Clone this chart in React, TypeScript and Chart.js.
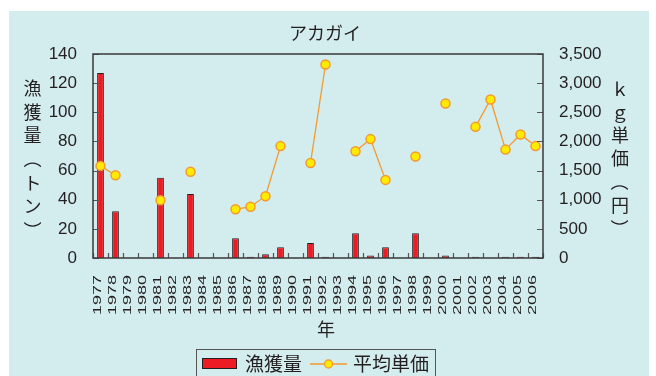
import { useEffect, useRef } from 'react';
import { Chart, registerables } from 'chart.js';

Chart.register(...registerables);

// 年ごとのアカガイ漁獲量（トン）と平均単価（円/kg）
const years = [
  '1977', '1978', '1979', '1980', '1981', '1982', '1983', '1984', '1985', '1986',
  '1987', '1988', '1989', '1990', '1991', '1992', '1993', '1994', '1995', '1996',
  '1997', '1998', '1999', '2000', '2001', '2002', '2003', '2004', '2005', '2006',
];

const catchTons: (number | null)[] = [
  127, 32, null, null, 55, null, 44, null, null, 13.5,
  0.8, 2.5, 7.3, null, 10.3, 0.8, null, 17, 1.8, 7.3,
  null, 17, null, 1.8, null, 0.8, null, 0.8, 0.8, 0.8,
];

const unitPrice: (number | null)[] = [
  1580, 1420, null, null, 990, null, 1480, null, null, 835,
  880, 1060, 1920, null, 1630, 3320, null, 1830, 2040, 1340,
  null, 1740, null, 2650, null, 2250, 2720, 1860, 2120, 1920,
];

const leftAxis = { min: 0, max: 140, step: 20 };
const rightAxis = { min: 0, max: 3500, step: 500 };

const titleText = 'アカガイ';
const xTitle = '年';
// 縦書きの軸タイトル（括弧は90度回して描く）
const leftTitle = ['漁', '獲', '量', '（', 'ト', 'ン', '）'];
const rightTitle = ['ｋ', 'ｇ', '単', '価', '（', '円', '）'];
const legendLabels = ['漁獲量', '平均単価'];

const BAR_RED = '#ED1C24';
const LINE_ORANGE = '#F39A2E';
const POINT_YELLOW = '#FFEB00';
const INK = '#231F20';
const JP_FONT = "'Noto Sans CJK JP', 'Noto Sans', sans-serif";
const NUM_FONT = "'Liberation Sans', Arial, sans-serif";

function drawVerticalText(ctx: CanvasRenderingContext2D, chars: string[], cx: number, y0: number, step: number) {
  chars.forEach((ch, i) => {
    const cy = y0 + i * step;
    if (ch === '（' || ch === '）') {
      ctx.save();
      ctx.translate(cx, cy);
      ctx.rotate(Math.PI / 2);
      ctx.fillText(ch, 0, 0);
      ctx.restore();
    } else {
      ctx.fillText(ch, cx, cy);
    }
  });
}

const decorPlugin = {
  id: 'decor',
  afterDatasetsDraw(chart: any) {
    const { ctx, chartArea } = chart;
    const { left, right, top, bottom } = chartArea;
    const yL = chart.scales.y;
    const yR = chart.scales.y2;
    const x = chart.scales.x;
    ctx.save();

    // inner tick marks
    ctx.strokeStyle = '#555';
    ctx.lineWidth = 1.2;
    ctx.beginPath();
    for (let v = leftAxis.min; v <= leftAxis.max; v += leftAxis.step) {
      const py = Math.round(yL.getPixelForValue(v)) + 0.5;
      ctx.moveTo(left, py);
      ctx.lineTo(left + 6, py);
    }
    for (let v = rightAxis.min; v <= rightAxis.max; v += rightAxis.step) {
      const py = Math.round(yR.getPixelForValue(v)) + 0.5;
      ctx.moveTo(right - 6, py);
      ctx.lineTo(right, py);
    }
    const half = (x.getPixelForValue(1) - x.getPixelForValue(0)) / 2;
    for (let i = 0; i <= years.length; i++) {
      const px = Math.round(x.getPixelForValue(i) - half) + 0.5;
      ctx.moveTo(px, bottom);
      ctx.lineTo(px, bottom - 5);
    }
    ctx.stroke();

    // plot frame
    ctx.strokeStyle = '#3a3a3a';
    ctx.lineWidth = 1.5;
    ctx.strokeRect(left, top, right - left, bottom - top);
    ctx.restore();
  },
  afterDraw(chart: any) {
    const { ctx, chartArea } = chart;
    const x = chart.scales.x;
    ctx.save();
    ctx.fillStyle = INK;

    // title
    ctx.font = `18px ${JP_FONT}`;
    ctx.textAlign = 'center';
    ctx.textBaseline = 'middle';
    ctx.fillText(titleText, 325, 33);

    // vertical axis titles
    ctx.font = `18px ${JP_FONT}`;
    drawVerticalText(ctx, leftTitle, 32.5, 88, 23.7);
    drawVerticalText(ctx, rightTitle, 620, 89, 23.2);

    // year labels, rotated and narrowed
    years.forEach((label, i) => {
      const px = x.getPixelForValue(i);
      ctx.save();
      ctx.translate(px + 0.5, chartArea.bottom + 17);
      ctx.rotate(-Math.PI / 2);
      ctx.scale(1, 0.62);
      ctx.font = `18px ${NUM_FONT}`;
      ctx.textAlign = 'right';
      ctx.textBaseline = 'alphabetic';
      ctx.fillText(label, 0, 0);
      ctx.restore();
    });

    // x axis title
    ctx.font = `18px ${JP_FONT}`;
    ctx.textAlign = 'center';
    ctx.textBaseline = 'middle';
    ctx.fillText(xTitle, 326, 329);

    // legend
    ctx.strokeStyle = '#555';
    ctx.lineWidth = 1;
    ctx.strokeRect(196.5, 349.5, 239, 40);
    ctx.fillStyle = BAR_RED;
    ctx.fillRect(202, 358, 35, 11);
    ctx.strokeStyle = INK;
    ctx.strokeRect(202.5, 358.5, 34, 10);
    ctx.fillStyle = INK;
    ctx.font = `19px ${JP_FONT}`;
    ctx.textAlign = 'left';
    ctx.fillText(legendLabels[0], 245, 364);
    ctx.strokeStyle = LINE_ORANGE;
    ctx.lineWidth = 1.3;
    ctx.beginPath();
    ctx.moveTo(310, 364);
    ctx.lineTo(347, 364);
    ctx.stroke();
    ctx.beginPath();
    ctx.arc(328.5, 364, 4, 0, Math.PI * 2);
    ctx.fillStyle = POINT_YELLOW;
    ctx.fill();
    ctx.stroke();
    ctx.fillStyle = INK;
    ctx.fillText(legendLabels[1], 353, 364);
    ctx.restore();
  },
};

export default function App() {
  const canvasRef = useRef<HTMLCanvasElement | null>(null);

  useEffect(() => {
    const canvas = canvasRef.current;
    if (!canvas) return;
    const chart = new Chart(canvas, {
      type: 'bar',
      data: {
        labels: years,
        datasets: [
          {
            type: 'line',
            label: legendLabels[1],
            data: unitPrice,
            yAxisID: 'y2',
            order: 0,
            borderColor: LINE_ORANGE,
            borderWidth: 1.3,
            pointRadius: 4.5,
            pointBorderWidth: 1.5,
            pointBackgroundColor: POINT_YELLOW,
            pointBorderColor: LINE_ORANGE,
            spanGaps: false,
            tension: 0,
          },
          {
            type: 'bar',
            label: legendLabels[0],
            data: catchTons,
            yAxisID: 'y',
            order: 1,
            backgroundColor: BAR_RED,
            borderColor: INK,
            borderWidth: 1,
            borderSkipped: 'bottom',
            categoryPercentage: 1,
            barPercentage: 0.45,
          },
        ] as any,
      },
      options: {
        responsive: false,
        animation: false,
        devicePixelRatio: 1,
        layout: { padding: { top: 54, left: 0, right: 0, bottom: 0 } },
        plugins: {
          legend: { display: false },
          title: { display: false },
          tooltip: { enabled: false },
        },
        scales: {
          x: {
            type: 'category',
            offset: true,
            grid: { display: false, drawTicks: false },
            border: { display: false },
            ticks: { display: false },
            afterFit: (s: any) => { s.height = 118; },
          },
          y: {
            position: 'left',
            min: leftAxis.min,
            max: leftAxis.max,
            grid: { display: false, drawTicks: false },
            border: { display: false },
            ticks: {
              stepSize: leftAxis.step,
              padding: 16,
              color: INK,
              font: { family: NUM_FONT, size: 17 },
            },
            afterFit: (s: any) => { s.width = 93; },
          },
          y2: {
            position: 'right',
            min: rightAxis.min,
            max: rightAxis.max,
            grid: { display: false, drawTicks: false },
            border: { display: false },
            ticks: {
              stepSize: rightAxis.step,
              padding: 16,
              color: INK,
              font: { family: NUM_FONT, size: 17 },
              callback: (v: any) => Number(v).toLocaleString('en-US'),
            },
            afterFit: (s: any) => { s.width = 113; },
          },
        },
      } as any,
      plugins: [decorPlugin],
    });
    return () => chart.destroy();
  }, []);

  return (
    <div style={{ position: 'fixed', left: 0, top: 0, width: 656, height: 376, background: '#ffffff', overflow: 'hidden' }}>
      <div style={{ position: 'absolute', left: 9, top: 11, width: 640, height: 365, background: '#D3ECEE' }} />
      <canvas
        ref={canvasRef}
        width={656}
        height={376}
        style={{ position: 'absolute', left: 0, top: 0, width: 656, height: 376, display: 'block' }}
      />
    </div>
  );
}
